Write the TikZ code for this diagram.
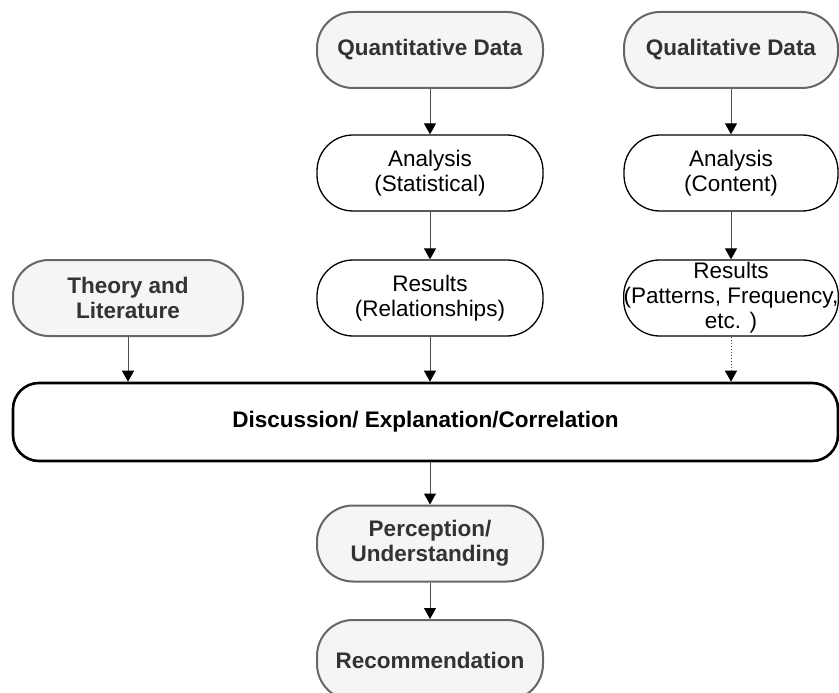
\documentclass[tikz,border=0pt]{standalone}
\usepackage{fontspec}
\setmainfont{Liberation Sans}
\usetikzlibrary{arrows.meta}
\definecolor{grayfill}{HTML}{F5F5F5}
\definecolor{grayline}{HTML}{666666}
\definecolor{graytext}{HTML}{333333}
\begin{document}
\begin{tikzpicture}[x=1pt,y=-1pt,
  base/.style={rounded corners=36pt, minimum height=76pt, align=center, inner sep=0pt,
    font=\fontsize{22.5}{25}\selectfont},
  graybox/.style={base, draw=grayline, line width=2pt, fill=grayfill, text=graytext,
    font=\fontsize{22.5}{25}\selectfont\bfseries},
  whitebox/.style={base, draw=black, line width=1.3pt, fill=white},
  discbox/.style={rounded corners=26pt, draw=black, line width=2.6pt, fill=white,
    minimum height=78pt, inner sep=0pt, font=\fontsize{22.5}{25}\selectfont\bfseries},
  arr/.style={draw=black!70, line width=1pt, -{Triangle[width=12pt,length=11pt,color=black]}}
]
\useasboundingbox (0,0) rectangle (839,693);
\node[graybox, minimum width=226pt] (quant) at (430,50) {Quantitative Data};
\node[graybox, minimum width=214pt] (qual) at (731,50) {Qualitative Data};
\node[whitebox, minimum width=226pt] (anaS) at (430,173) {Analysis\\(Statistical)};
\node[whitebox, minimum width=214pt] (anaC) at (731,173) {Analysis\\(Content)};
\node[graybox, minimum width=230pt] (theory) at (128,298) {Theory and\\Literature};
\node[whitebox, minimum width=226pt] (resR) at (430,298) {Results\\(Relationships)};
\node[whitebox, minimum width=214pt] (resP) at (731,298) {Results\\(Patterns, Frequency,\\etc. )};
\node[discbox, minimum width=825pt] (disc) at (425.5,422) {Discussion/ Explanation/Correlation};
\node[graybox, minimum width=226pt] (perc) at (430,543.5) {Perception/\\Understanding};
\node[graybox, minimum width=226pt, minimum height=80pt] (rec) at (430,660) {Recommendation};
\draw[arr] (quant) -- (anaS);
\draw[arr] (qual) -- (anaC);
\draw[arr] (anaS) -- (resR);
\draw[arr] (anaC) -- (resP);
\draw[arr] (theory.south) -- (theory.south |- disc.north);
\draw[arr] (resR.south) -- (resR.south |- disc.north);
\draw[arr, dotted] (resP.south) -- (resP.south |- disc.north);
\draw[arr] (disc.south -| perc.north) -- (perc.north);
\draw[arr] (perc) -- (rec);
\end{tikzpicture}
\end{document}
